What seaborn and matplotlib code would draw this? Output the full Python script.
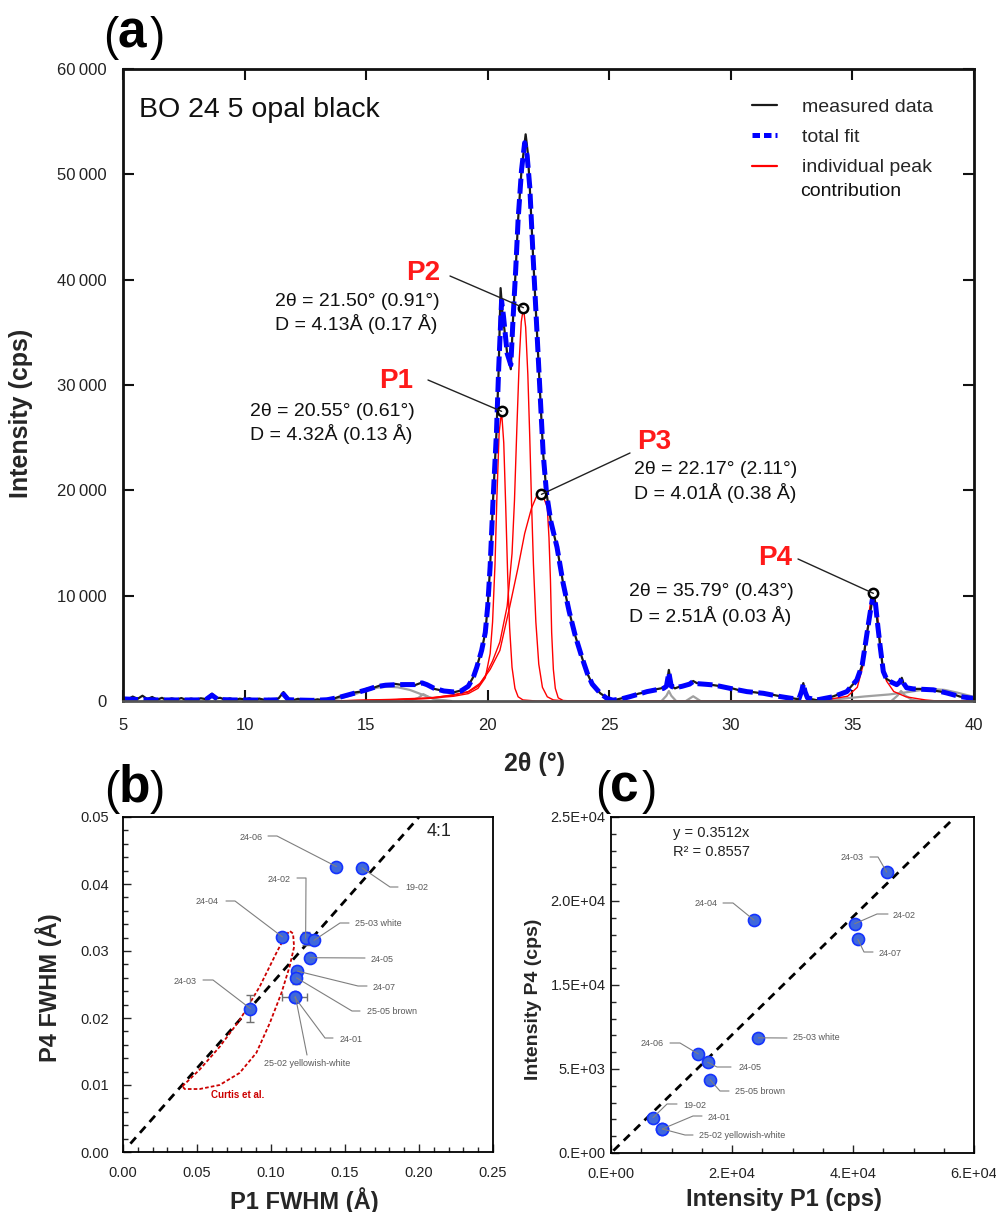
import matplotlib
matplotlib.use("Agg")
import matplotlib.pyplot as plt
from matplotlib.lines import Line2D
from matplotlib.ticker import FixedLocator, MultipleLocator, FixedFormatter
import seaborn as sns

sns.set_theme(style="ticks")
plt.rcParams['font.family'] = ['Liberation Sans', 'DejaVu Sans']

# ---------------- DATA: panel (a) ----------------
fit_tt = [5.0, 5.5, 6.0, 6.5, 7.0, 7.5, 8.0, 8.4, 8.66, 8.9, 9.5, 10.0, 10.5, 11.0, 11.4, 11.6, 11.8,
          12.2, 12.8, 13.4, 13.9, 14.5, 15.0, 15.4, 15.8, 16.2, 16.6, 17.0, 17.3, 17.5, 17.8, 18.2,
          18.6, 18.9, 19.2, 19.4, 19.55, 19.75, 19.9, 20.0, 20.1, 20.22, 20.36, 20.45, 20.57, 20.65,
          20.8, 20.95, 21.04, 21.15, 21.25, 21.39, 21.52, 21.62, 21.73, 21.86, 22.0, 22.14, 22.28,
          22.42, 22.6, 22.85, 23.1, 23.35, 23.6, 23.88, 24.1, 24.3, 24.63, 24.9, 25.15, 25.5, 25.86,
          26.2, 26.55, 26.9, 27.23, 27.35, 27.45, 27.55, 27.7, 28.0, 28.3, 28.45, 28.6, 29.0, 29.3,
          29.97, 30.66, 31.34, 32.03, 32.5, 32.8, 32.92, 32.98, 33.05, 33.15, 33.53, 34.22, 34.77,
          35.18, 35.4, 35.52, 35.65, 35.73, 35.86, 35.95, 36.05, 36.14, 36.27, 36.4, 36.55, 36.82,
          36.95, 37.03, 37.1, 37.23, 37.5, 37.78, 38.33, 38.88, 39.42, 39.97]
fit_int = [200, 150, 120, 100, 100, 100, 100, 120, 550, 150, 100, 100, 90, 90, 120, 650, 120,
           90, 60, 120, 350, 730, 1050, 1350, 1500, 1550, 1560, 1560, 1720, 1550, 1200, 950,
           860, 950, 1400, 2200, 3200, 4800, 6500, 9000, 12800, 19100, 25500, 31500, 38000, 36500,
           33000, 31900, 36200, 40900, 45700, 50400, 53000, 51800, 48800, 42500, 36200, 29800, 23500,
           19700, 17000, 14600, 11200, 8500, 6200, 4100, 2600, 1600, 730, 250, 80, 200, 420,
           650, 890, 1050, 1200, 1400, 2700, 1400, 1250, 1400, 1600, 1850, 1650, 1580, 1520,
           1200, 890, 730, 420, 250, 200, 1000, 1650, 900, 300, 100, 410, 890,
           1990, 3400, 5200, 7200, 8400, 10200, 9200, 7000, 5200, 2800, 2100, 1850, 1550,
           1800, 2150, 1700, 1250, 1150, 1120, 1060, 760, 420, 250]

meas_tt = [5.0, 5.2, 5.4, 5.6, 5.8, 6.0, 6.2, 6.4, 6.6, 6.8, 7.0, 7.2, 7.4, 7.6, 7.8, 8.0, 8.2, 8.4,
           8.66, 8.8, 9.0, 9.2, 9.4, 9.6, 9.8, 10.0, 10.2, 10.4, 10.6, 10.8, 11.0, 11.2, 11.4, 11.6,
           11.8, 12.0, 12.2, 12.4, 12.6, 12.8, 13.0, 13.2, 13.4, 13.7, 13.9, 14.2, 14.5, 14.8, 15.0,
           15.3, 15.6, 15.9, 16.2, 16.5, 16.8, 17.0, 17.3, 17.5, 17.8, 18.0, 18.3, 18.6, 18.9, 19.2,
           19.4, 19.55, 19.75, 19.9, 20.0, 20.1, 20.22, 20.36, 20.45, 20.53, 20.6, 20.8, 20.95,
           21.04, 21.15, 21.25, 21.39, 21.56, 21.65, 21.73, 21.86, 22.0, 22.14, 22.28, 22.42, 22.6,
           22.85, 23.1, 23.35, 23.6, 23.88, 24.1, 24.3, 24.63, 24.9, 25.15, 25.5, 25.86, 26.2,
           26.55, 26.9, 27.23, 27.35, 27.45, 27.55, 27.7, 28.0, 28.3, 28.45, 28.6, 29.0, 29.3, 29.6,
           29.97, 30.3, 30.66, 31.0, 31.34, 31.7, 32.03, 32.5, 32.8, 32.92, 32.98, 33.05, 33.15,
           33.53, 33.9, 34.22, 34.77, 35.18, 35.4, 35.52, 35.65, 35.73, 35.86, 35.95, 36.05, 36.14,
           36.27, 36.4, 36.55, 36.82, 36.95, 37.03, 37.1, 37.23, 37.5, 37.78, 38.0, 38.33, 38.6,
           38.88, 39.2, 39.42, 39.7, 39.97]
meas_int = [350, 150, 420, 200, 500, 180, 380, 120, 300, 90, 250, 140, 280, 100, 230, 120, 260, 180,
            700, 250, 300, 120, 250, 90, 220, 150, 260, 80, 230, 120, 200, 100, 250, 850,
            200, 80, 210, 60, 180, 70, 160, 90, 200, 250, 420, 500, 800, 900, 1150,
            1250, 1500, 1480, 1620, 1520, 1600, 1500, 1760, 1600, 1150, 1050, 900, 820, 1000, 1450,
            2250, 3250, 4800, 6500, 9000, 12800, 19100, 25500, 31500, 39200, 37000, 33000, 31500,
            36200, 40900, 45700, 50400, 53800, 52000, 48800, 42500, 36200, 29800, 23500, 19700, 17000,
            14600, 11200, 8500, 6200, 4100, 2600, 1600, 730, 300, 50, 250, 380, 700,
            850, 1100, 1250, 1450, 2950, 1450, 1200, 1450, 1550, 1900, 1700, 1600, 1500, 1400,
            1250, 1050, 900, 820, 700, 600, 450, 280, 150, 1050, 1700, 950, 250,
            80, 250, 450, 920, 2000, 3400, 5200, 7200, 8400, 10300, 9200, 7000, 5200,
            2800, 2100, 1900, 1500, 1800, 2200, 1700, 1300, 1150, 1150, 1100, 1000, 900,
            780, 600, 420, 330, 200]

# individual peak contributions (red)
p1_tt = [13.5, 16.0, 17.6, 18.6, 19.2, 19.6, 19.9, 20.1, 20.2, 20.3, 20.38, 20.47, 20.57, 20.66, 20.74,
         20.82, 20.9, 21.0, 21.12, 21.25, 21.45, 22.0, 40.0]
p1_int = [0, 100, 250, 450, 700, 1200, 2200, 4500, 7500, 13000, 19500, 25500, 27500, 24500, 18500,
          12000, 7000, 3200, 1200, 400, 100, 0, 0]
p2_tt = [13.5, 16.0, 17.6, 18.6, 19.2, 19.6, 19.9, 20.2, 20.5, 20.8, 21.0, 21.1, 21.2, 21.3, 21.38,
         21.47, 21.56, 21.65, 21.73, 21.8, 21.88, 21.98, 22.1, 22.25, 22.45, 22.7, 23.2, 40.0]
p2_int = [0, 150, 300, 550, 850, 1400, 2400, 3800, 5600, 9000, 14000, 19000, 26000, 32500, 36000,
          37340, 35500, 31000, 25000, 19000, 13000, 7500, 3500, 1300, 400, 100, 0, 0]
p3_tt = [13.5, 16.0, 17.6, 18.6, 19.2, 19.7, 20.1, 20.5, 20.9, 21.25, 21.52, 21.8, 22.0, 22.15, 22.3,
         22.45, 22.52, 22.58, 22.63, 22.7, 22.78, 22.9, 23.1, 23.5, 40.0]
p3_int = [0, 100, 250, 600, 900, 1700, 3000, 4800, 8900, 12700, 15900, 18300, 19400, 19600, 19300,
          18400, 15500, 11500, 6500, 3000, 1200, 300, 50, 0, 0]
p4_tt = [25.0, 33.0, 34.0, 34.8, 35.2, 35.45, 35.6, 35.72, 35.86, 36.0, 36.12, 36.25, 36.4, 36.7,
         37.2, 38.0, 38.5, 40.0]
p4_int = [0, 0, 150, 450, 1300, 3500, 6500, 9000, 10200, 9000, 6000, 3300, 1900, 900, 400, 100, 0, 0]

# background / minor components (grey)
g1_tt = [13.0, 13.5, 14.0, 14.5, 15.0, 15.5, 15.9, 16.3, 16.8, 17.2, 17.6, 18.0, 18.5]
g1_int = [0, 100, 300, 620, 1000, 1280, 1360, 1300, 1050, 700, 350, 120, 0]
g2_tt = [16.6, 16.9, 17.15, 17.35, 17.6, 17.9, 18.3]
g2_int = [0, 100, 300, 650, 350, 80, 0]
g3_tt = [27.15, 27.35, 27.45, 27.55, 27.75]
g3_int = [0, 500, 950, 500, 0]
g4_tt = [28.15, 28.45, 28.75]
g4_int = [0, 450, 0]
g5_tt = [33.6, 34.5, 35.5, 36.5, 37.2, 37.8, 38.3, 38.8, 39.3, 39.9, 40.0]
g5_int = [0, 200, 430, 620, 820, 1030, 1130, 1050, 800, 450, 400]
g6_tt = [36.6, 36.85, 37.0, 37.15, 37.45, 37.8]
g6_int = [0, 500, 950, 550, 100, 0]

peak_names = ['P1', 'P2', 'P3', 'P4']
peak_tt = [20.57, 21.47, 22.21, 35.86]
peak_int = [27500, 37340, 19620, 10220]
peak_line1 = ['2θ = 20.55° (0.61°)', '2θ = 21.50° (0.91°)', '2θ = 22.17° (2.11°)', '2θ = 35.79° (0.43°)']
peak_line2 = ['D = 4.32Å (0.13 Å)', 'D = 4.13Å (0.17 Å)', 'D = 4.01Å (0.38 Å)', 'D = 2.51Å (0.03 Å)']
a_xticks = [5, 10, 15, 20, 25, 30, 35, 40]
a_yticks = [0, 10000, 20000, 30000, 40000, 50000, 60000]
a_ytick_labels = ['0', '10\u2009000', '20\u2009000', '30\u2009000', '40\u2009000', '50\u2009000', '60\u2009000']

# ---------------- DATA: panel (b) ----------------
b_names = ['24-06', '19-02', '24-02', '25-03 white', '24-04', '24-05', '24-07', '25-05 brown',
           '24-01', '25-02 yellowish-white', '24-03']
b_p1_fwhm = [0.1442, 0.1615, 0.1234, 0.1291, 0.1077, 0.1266, 0.1178, 0.1172, 0.1160, 0.1165, 0.0861]
b_p4_fwhm = [0.0426, 0.0424, 0.0319, 0.0316, 0.0321, 0.0290, 0.0270, 0.0260, 0.0231, 0.0232, 0.0214]
b_xerr = [0.0010, 0.0010, 0.0000, 0.0015, 0.0005, 0.0010, 0.0008, 0.0008, 0.0083, 0.0008, 0.0005]
b_yerr = [0.0003, 0.0003, 0.0010, 0.0005, 0.0002, 0.0003, 0.0007, 0.0009, 0.0004, 0.0004, 0.0020]
ratio_x = [0.005, 0.200]
ratio_y = [0.00125, 0.050]
curtis_x = [0.0401, 0.0518, 0.0653, 0.0789, 0.0924, 0.1036, 0.1093, 0.1126, 0.1149, 0.1156, 0.1126,
            0.1070, 0.0991, 0.0901, 0.0788, 0.0653, 0.0518, 0.0417, 0.0401]
curtis_y = [0.0098, 0.0123, 0.0157, 0.0197, 0.0247, 0.0297, 0.0321, 0.0330, 0.0326, 0.0306, 0.0277,
            0.0237, 0.0192, 0.0148, 0.0118, 0.0100, 0.0094, 0.0094, 0.0098]

# ---------------- DATA: panel (c) ----------------
c_names = ['24-03', '24-04', '24-02', '24-07', '25-03 white', '24-06', '24-05', '25-05 brown',
           '19-02', '24-01', '25-02 yellowish-white']
c_p1_int = [45570, 23640, 40280, 40790, 24350, 14430, 15980, 16360, 6940, 8480, 8480]
c_p4_int = [20900, 17330, 17060, 15910, 8570, 7370, 6750, 5460, 2630, 1790, 1790]
c_fit_x = [400, 56500]
c_fit_y = [175, 24830]
c_xticks = [0, 20000, 40000, 60000]
c_xtick_labels = ['0.E+00', '2.E+04', '4.E+04', '6.E+04']
c_yticks = [0, 6250, 12500, 18750, 25000]
c_ytick_labels = ['0.E+00', '5.E+03', '1.5E+04', '2.0E+04', '2.5E+04']

# ---------------- FIGURE ----------------
W, H = 996, 1212
fig = plt.figure(figsize=(W / 100, H / 100), dpi=100)


def px_axes(l, t, r, b):
    return fig.add_axes([l / W, 1 - b / H, (r - l) / W, (b - t) / H])


def fxy(x, y):
    return (x / W, 1 - y / H)


def line(ax, x, y, **kw):
    sns.lineplot(x=x, y=y, ax=ax, sort=False, estimator=None, legend=False, **kw)
    return ax.lines[-1]


def panel_label(letter, xs, ybase):
    fig.text(*fxy(xs[0], ybase), '(', fontsize=33, ha='left', va='baseline', color='black')
    fig.text(*fxy(xs[1], ybase - 3), letter, fontsize=37, fontweight='bold', ha='left', va='baseline',
             color='black')
    fig.text(*fxy(xs[2], ybase), ')', fontsize=33, ha='left', va='baseline', color='black')


# ---------------- panel (a) ----------------
ax = px_axes(123, 69, 974, 701)
grey = '#a0a0a0'
for gx, gy in [(g1_tt, g1_int), (g2_tt, g2_int), (g3_tt, g3_int), (g4_tt, g4_int), (g5_tt, g5_int),
               (g6_tt, g6_int)]:
    line(ax, gx, gy, color=grey, linewidth=1.6)
for px_, py_ in [(p1_tt, p1_int), (p2_tt, p2_int), (p3_tt, p3_int), (p4_tt, p4_int)]:
    line(ax, px_, py_, color='#ff0000', linewidth=1.0)
line(ax, meas_tt, meas_int, color='#1a1a1a', linewidth=1.6)
ln = line(ax, fit_tt, fit_int, color='#0000ff', linewidth=3.6)
ln.set_dashes([3.0, 1.1])

ax.set_xlim(5, 40)
ax.set_ylim(0, 60000)
ax.xaxis.set_major_locator(FixedLocator(a_xticks))
ax.yaxis.set_major_locator(FixedLocator(a_yticks))
ax.yaxis.set_major_formatter(FixedFormatter(a_ytick_labels))
ax.tick_params(direction='in', length=8, width=1.5, top=True, right=True, labelsize=12,
               labelcolor='#222222', color='#111111')
ax.tick_params(axis='y', pad=12)
ax.tick_params(axis='x', pad=12)
for s in ['left', 'top', 'right']:
    ax.spines[s].set_linewidth(2.0)
    ax.spines[s].set_color('#111111')
ax.spines['bottom'].set_linewidth(2.0)
ax.spines['bottom'].set_color('#555555')
ax.set_xlabel('2θ (°)', fontsize=18, fontweight='bold')
ax.set_ylabel('Intensity (cps)', fontsize=18, fontweight='bold')
ax.xaxis.set_label_coords(0.484, -0.080)
ax.yaxis.set_label_coords(-0.106, 0.455)

# annotations
ann = {
    'P1': dict(lab=(413, 381), lab_ha='right', l1=(250, 411), l2=(250, 434), lead=(428, 380)),
    'P2': dict(lab=(440, 273), lab_ha='right', l1=(275, 301), l2=(275, 324), lead=(450, 276)),
    'P3': dict(lab=(637, 442), lab_ha='left', l1=(634, 470), l2=(634, 493), lead=(630, 453)),
    'P4': dict(lab=(792, 558), lab_ha='right', l1=(629, 591), l2=(629, 616), lead=(798, 559)),
}
for i, name in enumerate(peak_names):
    a = ann[name]
    fig.text(*fxy(*a['lab']), name, fontsize=20, fontweight='bold', color='#ff1a1a',
             ha=a['lab_ha'], va='center')
    fig.text(*fxy(*a['l1']), peak_line1[i], fontsize=14, ha='left', va='center', color='#111111')
    fig.text(*fxy(*a['l2']), peak_line2[i], fontsize=14, ha='left', va='center', color='#111111')
    mx, my = fig.transFigure.inverted().transform(ax.transData.transform((peak_tt[i], peak_int[i])))
    lx, ly = fxy(*a['lead'])
    fig.add_artist(Line2D([lx, mx], [ly, my], transform=fig.transFigure, color='#222222',
                          linewidth=1.0, zorder=5))
sns.scatterplot(x=peak_tt, y=peak_int, ax=ax, marker='o', s=45, facecolor='white', edgecolor='black',
                linewidth=1.8, zorder=10, legend=False)
ax.text(5.64, 56100, 'BO 24 5 opal black', fontsize=20.5, ha='left', va='center', color='#111111')

handles = [Line2D([], [], color='#1a1a1a', linewidth=1.6),
           Line2D([], [], color='#0000ff', linewidth=3.6, dashes=[1.5, 0.8]),
           Line2D([], [], color='#ff0000', linewidth=1.6)]
leg = ax.legend(handles, ['measured data', 'total fit', 'individual peak'], loc='upper left',
                bbox_to_anchor=((752 - 123) / 851, (701 - 98) / 632), frameon=False, fontsize=14,
                handlelength=1.3, handletextpad=1.25, labelspacing=0.66, borderaxespad=0, borderpad=0)
fig.text(*fxy(800, 191), 'contribution', fontsize=14, ha='left', va='center', color='#111111')
panel_label('a', (103, 117, 150), 50)

# ---------------- panel (b) ----------------
axb = px_axes(123, 817, 493, 1152)
line(axb, ratio_x, ratio_y, color='black', linewidth=2.0)
axb.lines[-1].set_dashes([3.0, 2.2])
line(axb, curtis_x, curtis_y, color='#cc0000', linewidth=1.3)
axb.lines[-1].set_dashes([2.0, 1.2])
axb.errorbar(b_p1_fwhm, b_p4_fwhm, xerr=b_xerr, yerr=b_yerr, fmt='none', ecolor='#6f6f6f',
             elinewidth=1.0, capsize=3, capthick=1.0, zorder=3)
sns.scatterplot(x=b_p1_fwhm, y=b_p4_fwhm, ax=axb, marker='o', s=75, color='#3f68dc',
                edgecolor='#1433ff', linewidth=1.2, zorder=4, legend=False)
axb.set_xlim(0, 0.25)
axb.set_ylim(0, 0.05)
axb.xaxis.set_major_locator(MultipleLocator(0.05))
axb.xaxis.set_minor_locator(MultipleLocator(0.01))
axb.yaxis.set_major_locator(MultipleLocator(0.01))
axb.yaxis.set_minor_locator(MultipleLocator(0.002))
axb.xaxis.set_major_formatter(matplotlib.ticker.FormatStrFormatter('%.2f'))
axb.yaxis.set_major_formatter(matplotlib.ticker.FormatStrFormatter('%.2f'))
axb.tick_params(which='major', direction='in', length=6, width=1.0, labelsize=10.5, pad=10,
                labelcolor='#222222')
axb.tick_params(which='minor', direction='in', length=3.5, width=1.0)
for s in axb.spines.values():
    s.set_linewidth(1.3)
    s.set_color('black')
axb.set_xlabel('P1 FWHM (Å)', fontsize=17, fontweight='bold')
axb.set_ylabel('P4 FWHM (Å)', fontsize=17, fontweight='bold')
axb.xaxis.set_label_coords(0.489, -0.106)
axb.yaxis.set_label_coords(-0.165, 0.491)
axb.text(0.2052, 0.0479, '4:1', fontsize=13, ha='left', va='center', color='#222222')
axb.text(0.0595, 0.0085, 'Curtis et al.', fontsize=7, fontweight='bold', color='#cc0000',
         ha='left', va='center')

b_lab = {
    '24-06': ((277, 836), (268, 836), (263, 837), 'right'),
    '19-02': ((390, 887), (398, 887), (405, 888), 'left'),
    '24-02': ((306, 878), (297, 878), (291, 879), 'right'),
    '25-03 white': ((340, 923), (349, 923), (355, 924), 'left'),
    '24-04': ((235, 901), (226, 901), (219, 901), 'right'),
    '24-05': ((365, 958), (365, 958), (371, 959), 'left'),
    '24-07': ((358, 986), (367, 986), (373, 987), 'left'),
    '25-05 brown': ((352, 1011), (360, 1011), (367, 1012), 'left'),
    '24-01': ((325, 1038), (333, 1038), (340, 1039), 'left'),
    '25-02 yellowish-white': ((307, 1055), (307, 1055), (307, 1064), 'center'),
    '24-03': ((213, 980), (203, 980), (197, 981), 'right'),
}


def leaders(axx, names, xs, ys, spec):
    for n, x, y in zip(names, xs, ys):
        elbow, end, tpos, ha = spec[n]
        mx, my = fig.transFigure.inverted().transform(axx.transData.transform((x, y)))
        ex, ey = fxy(*elbow)
        nx, ny = fxy(*end)
        fig.add_artist(Line2D([mx, ex, nx], [my, ey, ny], transform=fig.transFigure,
                              color='#7f7f7f', linewidth=0.8, zorder=2))
        fig.text(*fxy(*tpos), n, fontsize=6.5, color='#595959', ha=ha, va='center')


leaders(axb, b_names, b_p1_fwhm, b_p4_fwhm, b_lab)
panel_label('b', (104, 119, 150), 804)

# ---------------- panel (c) ----------------
axc = px_axes(611, 817, 974, 1153)
line(axc, c_fit_x, c_fit_y, color='black', linewidth=2.0)
axc.lines[-1].set_dashes([3.0, 2.2])
sns.scatterplot(x=c_p1_int, y=c_p4_int, ax=axc, marker='o', s=75, color='#3f68dc',
                edgecolor='#1433ff', linewidth=1.2, zorder=4, legend=False)
axc.set_xlim(0, 60000)
axc.set_ylim(0, 25000)
axc.xaxis.set_major_locator(FixedLocator(c_xticks))
axc.xaxis.set_major_formatter(FixedFormatter(c_xtick_labels))
axc.xaxis.set_minor_locator(MultipleLocator(5000))
axc.yaxis.set_major_locator(FixedLocator(c_yticks))
axc.yaxis.set_major_formatter(FixedFormatter(c_ytick_labels))
axc.yaxis.set_minor_locator(MultipleLocator(1250))
axc.tick_params(which='major', direction='in', length=6, width=1.0, labelsize=10.5,
                labelcolor='#222222')
axc.tick_params(which='minor', direction='in', length=3.5, width=1.0)
axc.tick_params(axis='x', pad=10)
axc.tick_params(axis='y', pad=4)
for s in axc.spines.values():
    s.set_linewidth(1.3)
    s.set_color('black')
axc.set_xlabel('Intensity P1 (cps)', fontsize=17, fontweight='bold')
axc.set_ylabel('Intensity P4 (cps)', fontsize=14, fontweight='bold')
axc.xaxis.set_label_coords(0.477, -0.104)
axc.yaxis.set_label_coords(-0.19, 0.458)
fig.text(*fxy(673, 833), 'y = 0.3512x', fontsize=10.5, ha='left', va='center', color='#222222')
fig.text(*fxy(673, 852), 'R² = 0.8557', fontsize=10.5, ha='left', va='center', color='#222222')

c_lab = {
    '24-03': ((878, 857), (870, 857), (864, 857), 'right'),
    '24-04': ((733, 903), (723, 903), (718, 903), 'right'),
    '24-02': ((877, 914), (888, 914), (893, 915), 'left'),
    '24-07': ((864, 952), (873, 952), (879, 953), 'left'),
    '25-03 white': ((787, 1038), (787, 1038), (793, 1038), 'left'),
    '24-06': ((680, 1043), (670, 1043), (664, 1043), 'right'),
    '24-05': ((717, 1067), (731, 1067), (739, 1067), 'left'),
    '25-05 brown': ((720, 1091), (729, 1091), (735, 1092), 'left'),
    '19-02': ((667, 1104), (677, 1104), (683, 1105), 'left'),
    '24-01': ((693, 1116), (702, 1116), (708, 1117), 'left'),
    '25-02 yellowish-white': ((685, 1135), (693, 1135), (699, 1136), 'left'),
}
leaders(axc, c_names, c_p1_int, c_p4_int, c_lab)
panel_label('c', (595, 610, 642), 804)

fig.savefig('out.png', dpi=100)
